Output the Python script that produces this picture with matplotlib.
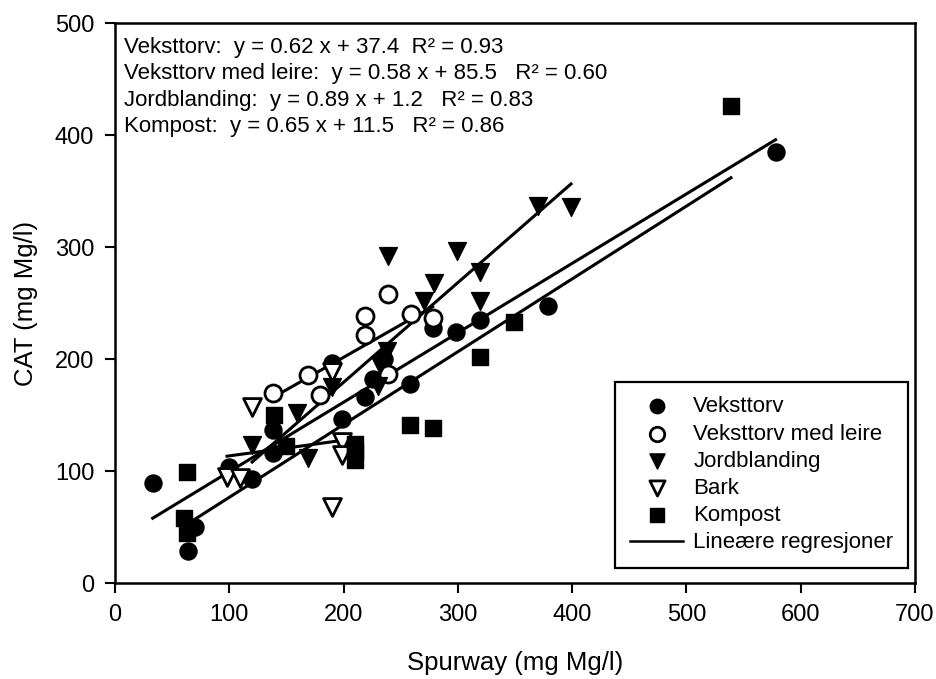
import matplotlib
matplotlib.use("Agg")
import matplotlib.pyplot as plt
from matplotlib.lines import Line2D
import numpy as np

plt.rcParams['font.family'] = ['Liberation Sans', 'DejaVu Sans']

# data (Spurway x, CAT y), mg Mg/l
veksttorv_x = [33, 64, 70, 100, 120, 138, 138, 190, 199, 219, 226, 235, 258, 278, 298, 319, 379, 578]
veksttorv_y = [89, 29, 50, 104, 93, 116, 137, 196, 146, 166, 182, 200, 178, 228, 224, 235, 247, 385]

leire_x = [138, 169, 179, 219, 219, 239, 239, 259, 278]
leire_y = [170, 186, 168, 238, 221, 258, 187, 240, 237]

jord_x = [120, 159, 169, 190, 230, 232, 238, 239, 270, 279, 299, 319, 319, 370, 399]
jord_y = [123, 152, 112, 175, 176, 195, 207, 292, 252, 268, 296, 278, 252, 337, 336]

bark_x = [98, 109, 120, 190, 190, 199, 199]
bark_y = [95, 94, 157, 188, 68, 126, 114]

kompost_x = [60, 63, 63, 139, 150, 210, 210, 210, 258, 278, 319, 349, 539]
kompost_y = [58, 99, 45, 150, 122, 124, 118, 110, 141, 138, 202, 233, 426]

# regression lines: name, slope, intercept, R^2 (bark not given in the text)
reg_names = ['Veksttorv', 'Veksttorv med leire', 'Jordblanding', 'Kompost']
reg_slope = [0.62, 0.58, 0.89, 0.65]
reg_icept = [37.4, 85.5, 1.2, 11.5]
reg_r2 = [0.93, 0.60, 0.83, 0.86]
bark_slope, bark_icept = 0.14, 99.5

fig = plt.figure(figsize=(9.36, 6.79), dpi=100)
ax = fig.add_axes([115 / 936, 96 / 679, 800 / 936, 560 / 679])

ms = 150
ax.scatter(veksttorv_x, veksttorv_y, s=ms, marker='o', c='black', zorder=3, label='Veksttorv')
ax.scatter(leire_x, leire_y, s=ms, marker='o', facecolors='white', edgecolors='black',
           linewidths=2, zorder=3, label='Veksttorv med leire')
ax.scatter(jord_x, jord_y, s=ms * 1.1, marker='v', c='black', zorder=3, label='Jordblanding')
ax.scatter(bark_x, bark_y, s=ms * 1.1, marker='v', facecolors='white', edgecolors='black',
           linewidths=2, zorder=3, label='Bark')
ax.scatter(kompost_x, kompost_y, s=ms * 0.85, marker='s', c='black', zorder=3, label='Kompost')

# regression lines over each series' x range
series_x = [veksttorv_x, leire_x, jord_x, kompost_x]
for xs, a, b in zip(series_x, reg_slope, reg_icept):
    xx = np.array([min(xs), max(xs)])
    ax.plot(xx, a * xx + b, color='black', lw=2.2, zorder=2)
xx = np.array([min(bark_x), max(bark_x)])
ax.plot(xx, bark_slope * xx + bark_icept, color='black', lw=2.2, zorder=2)

# equation text block
spaces = ['  ', '   ', '   ', '   ']
for i, (n, a, b, r) in enumerate(zip(reg_names, reg_slope, reg_icept, reg_r2)):
    ax.text(0.011, 0.957 - i * 0.0475,
            f"{n}:  y = {a:.2f} x + {b:.1f}{spaces[i]}R\u00b2 = {r:.2f}",
            transform=ax.transAxes, fontsize=16, va='center', ha='left')

ax.set_xlim(0, 700)
ax.set_ylim(0, 500)
ax.set_xticks(range(0, 701, 100))
ax.set_yticks(range(0, 501, 100))
ax.tick_params(direction='out', length=7, width=1.5, labelsize=17, pad=8)
for sp in ax.spines.values():
    sp.set_linewidth(1.8)

ax.set_xlabel('Spurway (mg Mg/l)', fontsize=18.5, labelpad=18)
ax.set_ylabel('CAT (mg Mg/l)', fontsize=18.5, labelpad=12)

handles, labels = ax.get_legend_handles_labels()
handles.append(Line2D([0], [0], color='black', lw=1.8))
labels.append('Lineære regresjoner')
leg = ax.legend(handles, labels, loc='lower right', bbox_to_anchor=(0.991, 0.027),
                borderaxespad=0, fontsize=16, frameon=True, fancybox=False,
                edgecolor='black', framealpha=1, markerscale=0.85, handlelength=2.4,
                labelspacing=0.28, borderpad=0.65, handletextpad=0.45)
leg.get_frame().set_linewidth(1.6)

fig.savefig('out.png', dpi=100)
